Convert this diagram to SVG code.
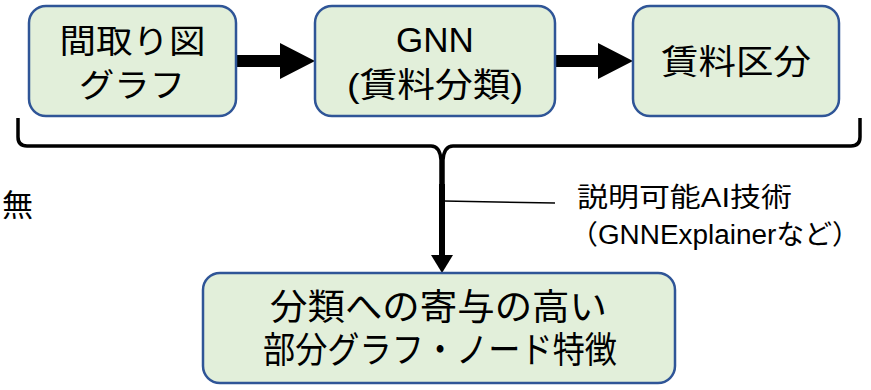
<svg xmlns="http://www.w3.org/2000/svg" width="871" height="390" viewBox="0 0 871 390">
<style>
.box{fill:#E2EFDA;stroke:#2F5597;stroke-width:2.5}
.t{font-family:"Liberation Sans","Noto Sans CJK JP",sans-serif;fill:#000;text-anchor:middle}
.jp{font-family:"Noto Sans CJK JP",sans-serif;fill:#000}
.ln{fill:none;stroke:#000}
</style>
<rect width="871" height="390" fill="#fff"/>
<g id="connectors">
  <path d="M236 55 H280 V43 L315 61 L280 79 V67 H236 Z" fill="#000"/>
  <path d="M555 55 H598 V43 L633 61 L598 79 V67 H555 Z" fill="#000"/>
  <path class="ln" stroke-width="3.5" d="M18 118 V137 Q18 146 27 146 H431 Q440 146 441 160 V186"/>
  <path class="ln" stroke-width="3.5" d="M860 118 V137 Q860 146 851 146 H453 Q444 146 443 160 V186"/>
  <line x1="442" y1="184" x2="442" y2="258" stroke="#000" stroke-width="6"/>
  <polygon points="431,255 453,255 442,273" fill="#000"/>
  <path class="ln" stroke-width="1.5" d="M444 201 L555 203"/>
</g>
<g id="node-floorplan">
  <rect class="box" x="29" y="6" width="207" height="110" rx="17"/>
  <text class="t" x="132.5" y="53" font-size="33" textLength="146" lengthAdjust="spacingAndGlyphs">間取り図</text>
  <text class="t" x="132" y="97" font-size="33" textLength="106" lengthAdjust="spacingAndGlyphs">グラフ</text>
</g>
<g id="node-gnn">
  <rect class="box" x="315" y="6" width="240" height="110" rx="17"/>
  <text class="t" x="435" y="52" font-size="35">GNN</text>
  <text class="t" x="435" y="97" font-size="34" textLength="176" lengthAdjust="spacingAndGlyphs">(賃料分類)</text>
</g>
<g id="node-rent">
  <rect class="box" x="633" y="6" width="206" height="110" rx="17"/>
  <text class="t" x="736" y="74" font-size="34" textLength="150" lengthAdjust="spacingAndGlyphs">賃料区分</text>
</g>
<g id="label-mu">
  <text class="jp" x="2" y="216" font-size="31">無</text>
</g>
<g id="label-xai">
  <text class="t" style="text-anchor:start" x="577" y="207" font-size="27" textLength="215" lengthAdjust="spacingAndGlyphs">説明可能AI技術</text>
  <text class="t" style="text-anchor:start" x="570" y="244" font-size="27" textLength="290" lengthAdjust="spacingAndGlyphs">（GNNExplainerなど）</text>
</g>
<g id="node-result">
  <rect class="box" x="203" y="273" width="472" height="110" rx="17"/>
  <text class="t" x="438.5" y="320" font-size="36" textLength="337" lengthAdjust="spacingAndGlyphs">分類への寄与の高い</text>
  <text class="t" x="440" y="363" font-size="36" textLength="354" lengthAdjust="spacingAndGlyphs">部分グラフ・ノード特徴</text>
</g>
</svg>
